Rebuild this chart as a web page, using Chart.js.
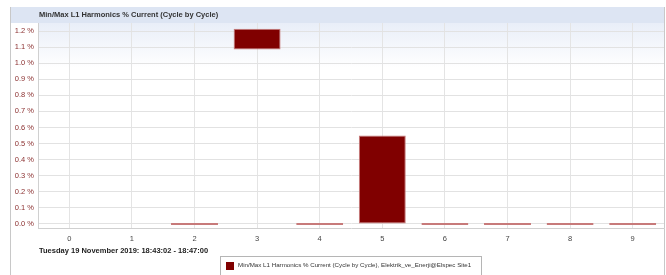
<!DOCTYPE html>
<html>
<head>
<meta charset="utf-8">
<script src="https://cdn.jsdelivr.net/npm/chart.js@4"></script>
<style>
  html, body { margin: 0; padding: 0; background: #fff; }
  #wrap { position: relative; width: 666px; height: 275px; overflow: hidden; font-family: "Liberation Sans", Arial, sans-serif; }
  #chart { position: absolute; left: 0; top: 0; }
  .title { position: absolute; left: 39px; top: 10px; font-size: 7.5px; font-weight: bold; color: #333; }
  .date { position: absolute; left: 39px; top: 246px; font-size: 7.5px; font-weight: bold; color: #222; }
  .legend { position: absolute; left: 220px; top: 256px; width: 262px; height: 22px; border: 1px solid #b5b5b5; background: #fff; box-sizing: border-box; }
  .legend .sw { position: absolute; left: 5px; top: 5px; width: 8px; height: 8px; background: #800000; }
  .legend .tx { position: absolute; left: 17px; top: 4px; font-size: 6.2px; color: #333; white-space: nowrap; }
</style>
</head>
<body>
<div id="wrap">
  <canvas id="chart" width="666" height="275"></canvas>
  <div class="title">Min/Max L1 Harmonics % Current (Cycle by Cycle)</div>
  <div class="date">Tuesday 19 November 2019: 18:43:02 - 18:47:00</div>
  <div class="legend"><div class="sw"></div><div class="tx">Min/Max L1 Harmonics % Current (Cycle by Cycle), Elektrik_ve_Enerji@Elspec Site1</div></div>
</div>
<script>
const harmonics = ['0', '1', '2', '3', '4', '5', '6', '7', '8', '9'];
const minValues = [null, null, 0, 1.085, 0, 0, 0, 0, 0, 0];
const maxValues = [null, null, 0, 1.215, 0, 0.55, 0, 0, 0, 0];
const yTicks = [0, 0.1, 0.2, 0.3, 0.4, 0.5, 0.6, 0.7, 0.8, 0.9, 1.0, 1.1, 1.2];

const ranges = harmonics.map((h, i) => minValues[i] === null ? null : [minValues[i], maxValues[i]]);

// header band, plot background gradient and frame lines
const backdrop = {
  id: 'backdrop',
  beforeDraw(chart) {
    const { ctx, chartArea: a } = chart;
    ctx.save();
    ctx.fillStyle = '#dde5f3';
    ctx.fillRect(10, 7, a.right - 10, a.top - 7);
    const g = ctx.createLinearGradient(0, a.top, 0, a.top + 45);
    g.addColorStop(0, '#e9eef8');
    g.addColorStop(1, '#ffffff');
    ctx.fillStyle = g;
    ctx.fillRect(a.left, a.top, a.right - a.left, a.bottom - a.top);
    ctx.strokeStyle = '#c8c8c8';
    ctx.lineWidth = 1;
    ctx.beginPath();
    ctx.moveTo(10.5, 7); ctx.lineTo(10.5, 275);
    ctx.moveTo(a.right + 0.5, 7); ctx.lineTo(a.right + 0.5, 275);
    ctx.stroke();
    ctx.restore();
  }
};

new Chart(document.getElementById('chart'), {
  type: 'bar',
  data: {
    labels: harmonics,
    datasets: [{
      label: 'Min/Max L1 Harmonics % Current (Cycle by Cycle), Elektrik_ve_Enerji@Elspec Site1',
      data: ranges,
      backgroundColor: '#800000',
      borderColor: '#c77a7a',
      borderWidth: 1,
      borderSkipped: false,
      minBarLength: 2,
      barPercentage: 0.75,
      categoryPercentage: 1
    }]
  },
  options: {
    responsive: false,
    animation: false,
    layout: { padding: { left: 0, right: 2, top: 23, bottom: 0 } },
    plugins: { legend: { display: false }, title: { display: false }, tooltip: { enabled: false } },
    scales: {
      x: {
        offset: true,
        grid: { offset: false, color: '#e4e4e4', drawTicks: false },
        border: { color: '#d0d0d0' },
        ticks: { padding: 6, color: '#444', font: { family: 'Liberation Sans', size: 7.5 } },
        afterFit(s) { s.height = 47; }
      },
      y: {
        min: -0.025,
        max: 1.25,
        ticks: {
          padding: 4,
          color: '#8b3030',
          font: { family: 'Liberation Sans', size: 7.5 },
          callback: v => v.toFixed(1) + ' %'
        },
        afterBuildTicks(s) {
          s.ticks = yTicks.map(v => ({ value: v }));
        },
        grid: { color: '#e2e2e2', drawTicks: false },
        border: { color: '#d0d0d0' },
        afterFit(s) { s.width = 38; }
      }
    }
  },
  plugins: [backdrop]
});
</script>
</body>
</html>
